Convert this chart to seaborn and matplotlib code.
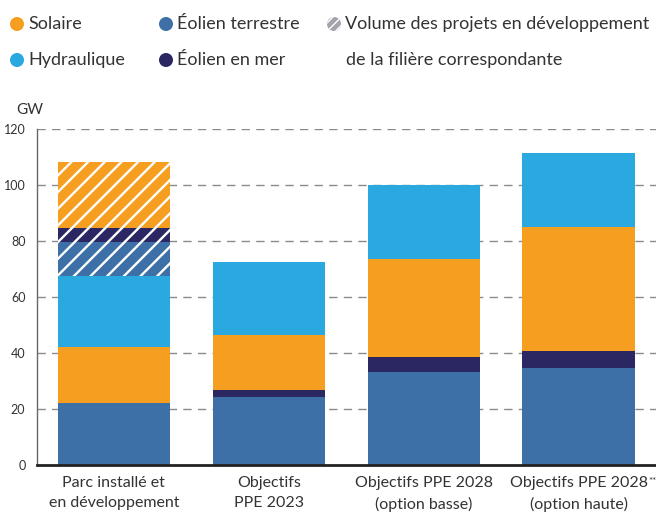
import matplotlib
matplotlib.use("Agg")
import matplotlib.pyplot as plt
import matplotlib.patches as mpatches
from matplotlib.transforms import IdentityTransform
import numpy as np
import pandas as pd
import seaborn as sns

# --- data (GW) ---
categories = ["Parc installé et\nen développement",
              "Objectifs\nPPE 2023",
              "Objectifs PPE 2028\n(option basse)",
              "Objectifs PPE 2028\n(option haute)"]
eolien_terrestre = [22.1, 24.4, 33.3, 34.7]
eolien_mer = [0.0, 2.3, 5.2, 6.1]
solaire = [20.0, 19.8, 35.1, 44.0]
hydraulique = [25.3, 26.0, 26.4, 26.7]
dev_eolien_terrestre = [12.3, 0.0, 0.0, 0.0]
dev_eolien_mer = [5.0, 0.0, 0.0, 0.0]
dev_solaire = [23.3, 0.0, 0.0, 0.0]
y_ticks = [0, 20, 40, 60, 80, 100, 120]

C_SOL = "#f59e1f"
C_HYD = "#29a9e0"
C_TER = "#3d70a6"
C_MER = "#2a2763"
TXT = "#333333"

sns.set_theme(style="white")
plt.rcParams["font.family"] = ["Lato", "DejaVu Sans"]
plt.rcParams["hatch.linewidth"] = 1.7

layers = [
    ("Éolien terrestre", eolien_terrestre, C_TER, None),
    ("Éolien en mer", eolien_mer, C_MER, None),
    ("Solaire", solaire, C_SOL, None),
    ("Hydraulique", hydraulique, C_HYD, None),
    ("Dév. éolien terrestre", dev_eolien_terrestre, C_TER, "//"),
    ("Dév. éolien en mer", dev_eolien_mer, C_MER, "//"),
    ("Dév. solaire", dev_solaire, C_SOL, "//"),
]

df = pd.DataFrame({"categorie": categories})
cum = np.zeros(len(categories))
for name, vals, _, _ in layers:
    cum = cum + np.array(vals)
    df[name] = cum.copy()

W, H = 656, 516
fig = plt.figure(figsize=(W / 100, H / 100), dpi=100)
ax = fig.add_axes([36.5 / W, (H - 465.3) / H, 1 - 36.5 / W, (465.3 - 128.7) / H])

# stacked bars: draw cumulative totals from the top layer down
for name, _, color, hatch in reversed(layers):
    kw = dict(hatch=hatch, edgecolor="white", linewidth=0) if hatch else dict(linewidth=0)
    sns.barplot(data=df, x="categorie", y=name, color=color, saturation=1,
                width=0.724, ax=ax, zorder=2, **kw)

ax.set_xlim(-0.5, 3.5)
ax.set_ylim(0, 120)
ax.set_yticks(y_ticks)
ax.set_yticklabels([str(t) for t in y_ticks], fontsize=9, color=TXT)
ax.set_xlabel("")
ax.set_ylabel("")
ax.tick_params(axis="y", length=0, pad=8)
ax.tick_params(axis="x", length=0, pad=8, labelsize=11.5, labelcolor=TXT)
for lab in ax.get_xticklabels():
    lab.set_linespacing(1.5)

for t in y_ticks[1:]:
    ax.axhline(t, color="#8a8a8a", lw=1.0, ls=(0, (6, 4.5)), zorder=1)

for s in ["top", "right"]:
    ax.spines[s].set_visible(False)
ax.spines["left"].set_color("#666666")
ax.spines["left"].set_linewidth(1.0)
ax.spines["bottom"].set_color("#222222")
ax.spines["bottom"].set_linewidth(2.0)
ax.spines["bottom"].set_zorder(5)

fig.text(30 / W, 1 - 110 / H, "GW", fontsize=11, color=TXT, ha="center", va="center")

# footnote marker after the last category label
fig.canvas.draw()
renderer = fig.canvas.get_renderer()
last = ax.get_xticklabels()[-1]
bb = last.get_window_extent(renderer)
fig.text((bb.x1 + 0.5) / W, (bb.y1 - 1) / H, "**", fontsize=7, color=TXT,
         ha="left", va="top")

# legend
plt.rcParams["hatch.linewidth"] = 1.0

def legend_dot(x, y, color, hatch=None):
    c = mpatches.Circle((x, H - y), 7, transform=IdentityTransform(),
                        facecolor=color, edgecolor="white" if hatch else color,
                        linewidth=0, hatch=hatch)
    fig.add_artist(c)

items = [
    (17, 24, C_SOL, None, "Solaire"),
    (17, 60, C_HYD, None, "Hydraulique"),
    (166, 24, C_TER, None, "Éolien terrestre"),
    (166, 60, C_MER, None, "Éolien en mer"),
    (334, 24, "#a3a3ad", "////", "Volume des projets en développement"),
]
for x, y, col, h, lab in items:
    legend_dot(x, y, col, h)
    fig.text((x + 11) / W, 1 - y / H, lab, fontsize=13, color=TXT,
             ha="left", va="center")
fig.text(346 / W, 1 - 60 / H, "de la filière correspondante", fontsize=13,
         color=TXT, ha="left", va="center")

fig.savefig("out.png", dpi=100)
